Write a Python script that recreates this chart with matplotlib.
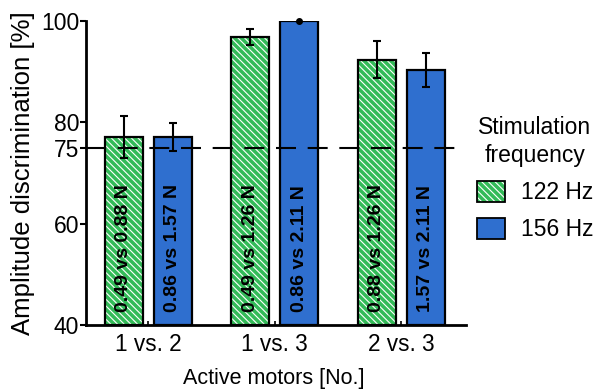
import matplotlib
matplotlib.use("Agg")
import matplotlib.pyplot as plt
import numpy as np
from matplotlib.patches import Patch

plt.rcParams['font.family'] = ['Liberation Sans', 'DejaVu Sans']
plt.rcParams['hatch.linewidth'] = 0.8

groups = ["1 vs. 2", "1 vs. 3", "2 vs. 3"]
series_names = ["122 Hz", "156 Hz"]
vals_122 = [77.1, 96.9, 92.4]
err_122 = [4.1, 1.6, 3.7]
vals_156 = [77.1, 100.0, 90.3]
err_156 = [2.8, 0.0, 3.4]
labels_122 = ["0.49 vs 0.88 N", "0.49 vs 1.26 N", "0.88 vs 1.26 N"]
labels_156 = ["0.86 vs 1.57 N", "0.86 vs 2.11 N", "1.57 vs 2.11 N"]
yticks = [40, 60, 75, 80, 100]
chance = 75

green = '#33bb58'
blue = '#2f6fcf'
HATCH = '\\' * 5

fig = plt.figure(figsize=(5.96, 3.89), dpi=100)
ax = fig.add_axes([86/596, 1-325/389, (466-86)/596, (325-21)/389])

x = np.arange(len(groups))
w = 0.30
off = 0.193
h122 = np.array(vals_122) - 40
h156 = np.array(vals_156) - 40
# hatched fill (white hatch lines) then black outline
ax.bar(x - off, h122, w, bottom=40, color=green, edgecolor='white', linewidth=0,
       hatch=HATCH, zorder=2)
ax.bar(x - off, h122, w, bottom=40, facecolor='none', edgecolor='black',
       linewidth=1.6, zorder=2.1)
ax.bar(x + off, h156, w, bottom=40, color=blue, edgecolor='black',
       linewidth=1.6, zorder=2)
ax.errorbar(x - off, vals_122, yerr=err_122, fmt='none', ecolor='black', elinewidth=1.5,
            capsize=3, capthick=1.5, zorder=4)
ax.errorbar(x + off, vals_156, yerr=err_156, fmt='none', ecolor='black', elinewidth=1.5,
            capsize=3, capthick=1.5, zorder=4)
ax.plot([x[1] + off], [vals_156[1]], 'o', color='black', ms=4, zorder=5, clip_on=False)

ln = ax.axhline(chance, color='black', lw=1.5, zorder=3)
ln.set_dashes((9.6, 5.6))

for xi, t in zip(x - off, labels_122):
    ax.text(xi, 42.6, t, rotation=90, ha='center', va='bottom', fontsize=14,
            fontweight='bold', color='black', zorder=5)
for xi, t in zip(x + off, labels_156):
    ax.text(xi, 42.6, t, rotation=90, ha='center', va='bottom', fontsize=14,
            fontweight='bold', color='black', zorder=5)

ax.set_xlim(-0.49, 2.51)
ax.set_ylim(40, 100)
ax.set_yticks(yticks)
ax.set_yticklabels([str(v) for v in yticks])
ax.set_xticks(x)
ax.set_xticklabels(groups)
ax.tick_params(axis='y', direction='out', length=4, width=1.5, labelsize=16.5, pad=1)
ax.tick_params(axis='x', direction='in', length=3, width=1.2, labelsize=16.3, pad=6)
for s in ['top', 'right']:
    ax.spines[s].set_visible(False)
for s in ['left', 'bottom']:
    ax.spines[s].set_linewidth(2)

ax.set_xlabel("Active motors [No.]", fontsize=15.5)
ax.xaxis.set_label_coords(0.495, -0.14)
ax.set_ylabel("Amplitude discrimination [%]", fontsize=18.5)
ax.yaxis.set_label_coords(-0.135, 0.5)

h_green = (Patch(facecolor=green, edgecolor='white', hatch=HATCH, linewidth=0),
           Patch(facecolor='none', edgecolor='black', linewidth=1.3))
h_blue = Patch(facecolor=blue, edgecolor='black', linewidth=1.3)
leg = fig.legend([h_green, h_blue], series_names, title="Stimulation\nfrequency",
                 loc='upper left', bbox_to_anchor=(477/596, 1-116/389), frameon=False,
                 fontsize=16.5, title_fontsize=16.5, handlelength=1.2, handleheight=1.0,
                 handletextpad=0.7, labelspacing=0.6, borderpad=0, borderaxespad=0)
leg.get_title().set_multialignment('center')
leg.get_title().set_linespacing(1.3)

fig.savefig('out.png', dpi=100)
